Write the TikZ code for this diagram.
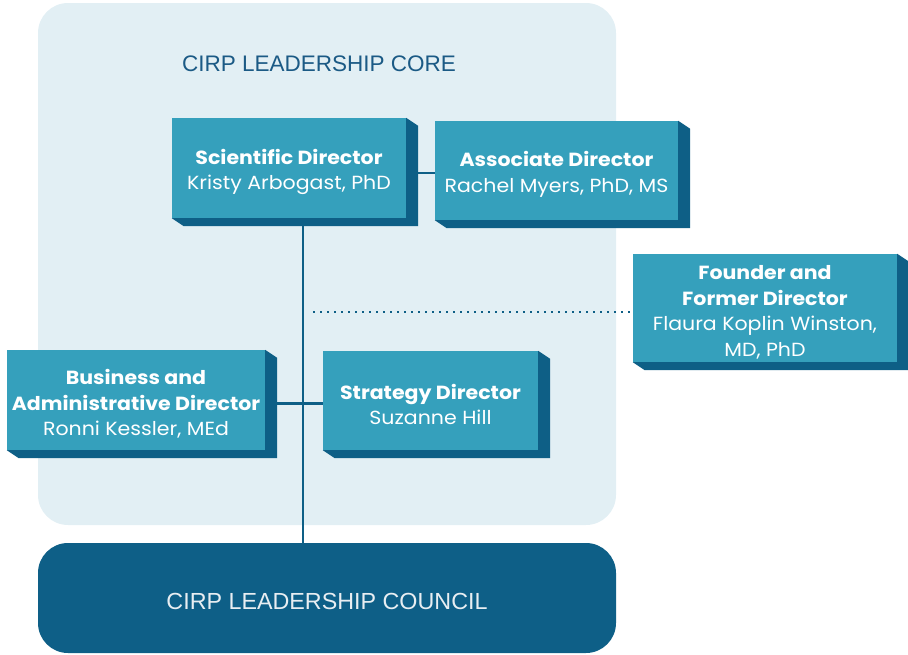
\documentclass[tikz,border=0pt]{standalone}
\usepackage{fontspec}
\setmainfont{Poppins}[FakeStretch=1.08]
\newfontfamily\titlefont{Liberation Sans}
\usetikzlibrary{calc}
\pgfdeclarelayer{panel}
\pgfdeclarelayer{links}
\pgfsetlayers{panel,links,main}
\definecolor{panelcol}{HTML}{E2EFF4}
\definecolor{face}{HTML}{35A0BC}
\definecolor{side}{HTML}{0E5F86}
\definecolor{councilcol}{HTML}{0E5F87}
\definecolor{coretitle}{HTML}{1B5A85}
\definecolor{lightText}{HTML}{E8EEF2}
\newcommand\firstline{\rule{0pt}{23pt}}
\tikzset{
  rolebox/.style={fill=face, text=white, align=center, inner sep=0pt,
    font=\fontsize{19}{25.7}\selectfont},
  link/.style={draw=side, line width=2.4pt},
  formerlink/.style={draw=side, line width=2pt, dash pattern=on 2pt off 5pt}
}
% dark extrusion on the right and bottom of a role box
\newcommand\extrude[1]{%
  \fill[side] (#1.north east) -- ++(12,8) -- ($(#1.south east)+(12,8)$)
    -- ($(#1.south west)+(12,8)$) -- (#1.south west) -- (#1.south east) -- cycle;}
\begin{document}
\begin{tikzpicture}[x=1pt,y=-1pt]
\useasboundingbox (0,0) rectangle (908,654);
% leadership core panel
\begin{pgfonlayer}{panel}
\fill[panelcol, rounded corners=30pt] (38,3) rectangle (616,525);
\end{pgfonlayer}
\node[font=\titlefont\fontsize{22.5}{26}\selectfont, text=coretitle] (core) at (319,64) {CIRP LEADERSHIP CORE};
% leadership council
\node[fill=councilcol, rounded corners=30pt, minimum width=578pt, minimum height=110pt,
  inner sep=0pt, text height=23.6pt, text depth=0pt, text=lightText,
  font=\titlefont\fontsize{23.3}{28}\selectfont] (council) at (327,598)
  {CIRP LEADERSHIP COUNCIL};
% role boxes
\node[rolebox, minimum width=234pt, minimum height=100pt] (sci) at (289,168)
  {\firstline\textbf{Scientific Director}\\Kristy Arbogast, PhD};
\node[rolebox, minimum width=243pt, minimum height=99pt] (assoc) at (556.5,170.5)
  {\firstline\textbf{Associate Director}\\Rachel Myers, PhD, MS};
\node[rolebox, minimum width=264pt, minimum height=108pt] (founder) at (765,308)
  {\firstline\textbf{Founder and}\\\textbf{Former Director}\\Flaura Koplin Winston,\\MD, PhD};
\node[rolebox, minimum width=258pt, minimum height=100pt] (biz) at (136,400)
  {\firstline\textbf{Business and}\\\textbf{Administrative Director}\\Ronni Kessler, MEd};
\node[rolebox, minimum width=215pt, minimum height=99pt] (strat) at (430.5,400.5)
  {\firstline\textbf{Strategy Director}\\Suzanne Hill};
\extrude{sci}
\extrude{assoc}
\extrude{founder}
\extrude{biz}
\extrude{strat}
% connectors, drawn beneath the boxes
\coordinate (trunk) at (303,0);
\begin{pgfonlayer}{links}
\draw[link] (sci.south -| trunk) -- (council.north -| trunk);
\draw[link] ([yshift=-5pt]sci.east) -- ([yshift=-5pt]sci.east -| assoc.west);
\draw[link] ([yshift=-3.5pt]biz.east) -- ([yshift=-3.5pt]biz.east -| strat.west);
\draw[formerlink] ([yshift=-4pt]founder.west -| 313,0) -- ([yshift=-4pt]founder.west);
\end{pgfonlayer}
\end{tikzpicture}
\end{document}
